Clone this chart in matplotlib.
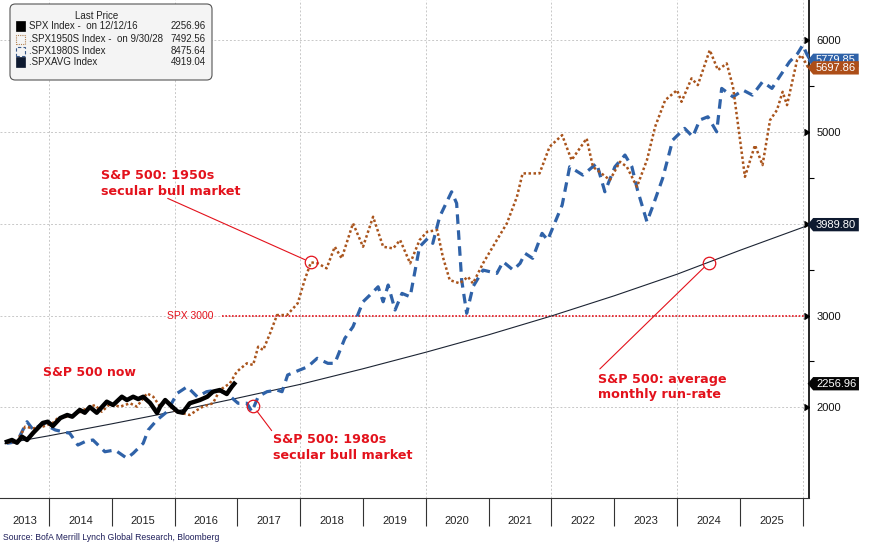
import matplotlib
matplotlib.use('Agg')
import matplotlib.pyplot as plt
from matplotlib.path import Path
from matplotlib.patches import Rectangle, FancyBboxPatch

# Datos (fecha en anos fraccionales)
spx_t = [2013.33, 2013.41, 2013.49, 2013.57, 2013.65, 2013.75, 2013.90, 2013.98, 2014.06, 2014.18,
         2014.29, 2014.37, 2014.49, 2014.57, 2014.65, 2014.76, 2014.92, 2015.02, 2015.16, 2015.24,
         2015.34, 2015.42, 2015.50, 2015.61, 2015.72, 2015.77, 2015.85, 2015.96, 2016.05, 2016.13,
         2016.24, 2016.40, 2016.52, 2016.61, 2016.72, 2016.83, 2016.91, 2016.95]
spx_v = [1625, 1644, 1614, 1680, 1644, 1723, 1829, 1843, 1796, 1883,
         1916, 1898, 1971, 1941, 2003, 1941, 2061, 2025, 2115, 2079,
         2115, 2090, 2115, 2047, 1938, 2007, 2079, 2007, 1952, 1941,
         2044, 2079, 2115, 2170, 2188, 2145, 2224, 2257]

s50_t = [2013.33, 2013.49, 2013.62, 2013.75, 2013.90, 2014.06, 2014.14, 2014.29, 2014.46, 2014.57,
         2014.73, 2014.84, 2014.97, 2015.13, 2015.29, 2015.40, 2015.56, 2015.66, 2015.77, 2015.88,
         2015.97, 2016.13, 2016.24, 2016.36, 2016.45, 2016.61, 2016.72, 2016.88, 2016.99, 2017.15,
         2017.25, 2017.33, 2017.41, 2017.52, 2017.63, 2017.79, 2017.96, 2018.07, 2018.17, 2018.28,
         2018.42, 2018.55, 2018.66, 2018.84, 2019.00, 2019.16, 2019.32, 2019.48, 2019.59, 2019.75,
         2019.90, 2020.02, 2020.18, 2020.27, 2020.38, 2020.54, 2020.67, 2020.75, 2020.91, 2021.13,
         2021.29, 2021.45, 2021.54, 2021.81, 2021.97, 2022.17, 2022.32, 2022.56, 2022.66, 2022.93,
         2023.09, 2023.20, 2023.36, 2023.52, 2023.65, 2023.81, 2024.00, 2024.07, 2024.23, 2024.33,
         2024.52, 2024.65, 2024.79, 2024.89, 2025.08, 2025.24, 2025.36, 2025.48, 2025.59, 2025.68,
         2025.75, 2025.91, 2025.98, 2026.08, 2026.12]
s50_v = [1614, 1625, 1789, 1771, 1789, 1829, 1883, 1898, 1935, 1978,
         2025, 1952, 2036, 2007, 2044, 2007, 2152, 2115, 2007, 2079,
         1971, 1935, 1916, 1971, 2007, 2044, 2188, 2261, 2388, 2479,
         2461, 2660, 2624, 2806, 3005, 3005, 3133, 3386, 3579, 3568,
         3514, 3749, 3623, 4004, 3749, 4076, 3749, 3731, 3822, 3568,
         3822, 3912, 3931, 3640, 3386, 3350, 3422, 3350, 3568, 3822,
         4004, 4293, 4548, 4548, 4838, 4965, 4693, 4929, 4620, 4476,
         4675, 4620, 4402, 4693, 5056, 5346, 5455, 5328, 5583, 5510,
         5891, 5674, 5746, 5491, 4511, 4856, 4639, 5129, 5238, 5437,
         5292, 5782, 5837, 5709, 5698]

s80_t = [2013.33, 2013.49, 2013.65, 2013.75, 2013.90, 2014.10, 2014.33, 2014.46, 2014.57, 2014.70,
         2014.89, 2015.05, 2015.24, 2015.34, 2015.50, 2015.58, 2015.72, 2015.88, 2016.04, 2016.20,
         2016.36, 2016.51, 2016.67, 2016.83, 2017.01, 2017.15, 2017.23, 2017.33, 2017.47, 2017.63,
         2017.71, 2017.80, 2017.99, 2018.12, 2018.27, 2018.44, 2018.55, 2018.71, 2018.84, 2019.00,
         2019.11, 2019.24, 2019.32, 2019.40, 2019.51, 2019.62, 2019.75, 2019.90, 2020.03, 2020.11,
         2020.22, 2020.41, 2020.49, 2020.57, 2020.65, 2020.75, 2020.91, 2021.13, 2021.23, 2021.39,
         2021.50, 2021.58, 2021.70, 2021.85, 2021.94, 2022.17, 2022.29, 2022.50, 2022.72, 2022.85,
         2023.01, 2023.17, 2023.28, 2023.37, 2023.52, 2023.61, 2023.77, 2023.93, 2024.12, 2024.25,
         2024.36, 2024.49, 2024.63, 2024.71, 2024.89, 2025.05, 2025.20, 2025.36, 2025.51, 2025.63,
         2025.79, 2025.92, 2026.00, 2026.06, 2026.12]
s80_v = [1608, 1625, 1843, 1753, 1826, 1753, 1717, 1589, 1625, 1644,
         1516, 1535, 1445, 1499, 1608, 1753, 1862, 1952, 2152, 2224,
         2115, 2170, 2188, 2152, 2044, 2044, 1952, 2115, 2170, 2188,
         2170, 2352, 2406, 2442, 2534, 2479, 2479, 2751, 2878, 3150,
         3223, 3313, 3150, 3332, 3060, 3241, 3204, 3749, 3840, 3786,
         4076, 4348, 4222, 3386, 3024, 3313, 3495, 3459, 3586, 3495,
         3568, 3677, 3623, 3895, 3822, 4203, 4620, 4530, 4657, 4348,
         4620, 4748, 4620, 4366, 4021, 4185, 4494, 4911, 5038, 4947,
         5129, 5165, 5001, 5474, 5382, 5455, 5401, 5546, 5474, 5600,
         5764, 5855, 5946, 5855, 5780]

avg_t = [2013.30, 2014.0, 2015.0, 2016.0, 2017.0, 2018.0, 2019.0, 2020.0,
         2021.0, 2022.0, 2023.0, 2024.0, 2025.0, 2026.12]
avg_v = [1605, 1690, 1820, 1955, 2100, 2250, 2420, 2600,
         2790, 2995, 3215, 3450, 3710, 3990]

spx_level = 3000
years = list(range(2014, 2027))
year_labels = [str(y) for y in range(2013, 2026)]
ytick_vals = [2000, 3000, 4000, 5000, 6000]
ytick_text = ['2000', '3000', '', '5000', '6000']  # 4000 queda tapado por la etiqueta 3989.80
ytick_minor = [2500, 3500, 4500, 5500]

# etiquetas del ultimo precio: valor, texto, color
tags = [(5780, '5779.85', '#2f62a8'), (5697.86, '5697.86', '#ad4e18'),
        (3989.80, '3989.80', '#0e1a30'), (2256.96, '2256.96', '#050505')]

legend_rows = [('SPX Index -  on 12/12/16', '2256.96'),
               ('.SPX1950S Index -  on 9/30/28', '7492.56'),
               ('.SPX1980S Index', '8475.64'),
               ('.SPXAVG Index', '4919.04')]

RED = '#e3121c'
ORANGE = '#a9541c'
BLUE = '#2f62a8'

W, H = 875, 545
fig = plt.figure(figsize=(W / 100, H / 100), dpi=100)
ax = fig.add_axes([0, 1 - 498 / H, 809 / W, 498 / H])
ax.set_xlim(2013.22, 2026.10)
ax.set_ylim(1012, 6437)

# rejilla punteada
ax.grid(axis='y', which='major', color='#c8c8c8', ls=(0, (2, 2)), lw=0.7)
for yr in range(2014, 2027, 2):
    ax.axvline(yr, color='#c8c8c8', ls=(0, (2, 2)), lw=0.7, zorder=0.5)

# series
ax.plot(avg_t, avg_v, color='#1c2433', lw=0.8, zorder=3)
ax.plot(s80_t, s80_v, color=BLUE, lw=2.3, ls=(0, (3, 2)), zorder=4)
ax.plot(s50_t, s50_v, color=ORANGE, lw=1.8, ls=(0, (1, 1)), zorder=5)
ax.plot(spx_t, spx_v, color='black', lw=3.2, zorder=6)

# linea SPX 3000
ax.axhline(spx_level, xmin=0.274, xmax=1, color=RED, ls=(0, (1, 1)), lw=1.2, zorder=2)
ax.text(2016.62, spx_level, 'SPX 3000', color=RED, fontsize=7.5, family='Liberation Sans',
        ha='right', va='center')

# anotaciones
def callout(circ, start, text, tpos):
    ax.plot(circ[0], circ[1], 'o', mfc='none', mec=RED, ms=9, mew=0.9, zorder=8)
    ax.annotate('', xy=circ, xytext=start,
                arrowprops=dict(arrowstyle='-', color=RED, lw=0.8, shrinkA=0, shrinkB=4.5))
    ax.text(tpos[0], tpos[1], text, color=RED, fontsize=9.2, fontweight='bold',
            ha='left', va='center', linespacing=1.25, zorder=8)

callout((2018.17, 3579), (2015.89, 4276), 'S&P 500: 1950s\nsecular bull market', (2014.83, 4437))
callout((2017.25, 2014), (2017.545, 1746), 'S&P 500: 1980s\nsecular bull market', (2017.565, 1562))
callout((2024.50, 3571), (2022.77, 2418), 'S&P 500: average\nmonthly run-rate', (2022.74, 2221))
ax.text(2013.905, 2374, 'S&P 500 now', color=RED, fontsize=9, fontweight='bold',
        ha='left', va='center', zorder=8)

# ejes
for s in ['left', 'top']:
    ax.spines[s].set_visible(False)
ax.spines['right'].set_color('black')
ax.spines['right'].set_linewidth(1.2)
ax.spines['bottom'].set_color('#333333')
ax.spines['bottom'].set_linewidth(0.8)

ax.set_xticks(years)
ax.set_xticklabels([''] * len(years))
ax.set_xticks([2013.62] + [y + 0.5 for y in range(2014, 2026)], minor=True)
ax.set_xticklabels(year_labels, minor=True, fontsize=8, family='Liberation Sans', color='#222222')
ax.tick_params(axis='x', which='major', length=20, width=0.8, color='#333333', direction='out')
ax.tick_params(axis='x', which='minor', length=0, pad=13)

ax.yaxis.tick_right()
ax.set_yticks(ytick_vals)
ax.set_yticklabels(ytick_text, fontsize=8, family='Liberation Sans', color='#111111')
ax.set_yticks(ytick_minor, minor=True)
ax.tick_params(axis='y', which='major', length=0, pad=5.5)
ax.tick_params(axis='y', which='minor', length=3.5, width=0.8, direction='out', color='black')
ax.plot([1.0] * len(ytick_vals), ytick_vals, transform=ax.get_yaxis_transform(),
        marker=5, ms=5, color='black', ls='none', clip_on=False, zorder=6)


# etiqueta con punta a la izquierda
def tag_box(x0, y0, width, height, mutation_size):
    px, py = 0.25 * mutation_size, 0.15 * mutation_size
    x0, y0 = x0 - px, y0 - py
    x1, y1 = x0 + width + 2 * px, y0 + height + 2 * py
    tip = 0.42 * (y1 - y0)
    return Path([(x0, y0), (x1, y0), (x1, y1), (x0, y1), (x0 - tip, (y0 + y1) / 2), (x0, y0)],
                closed=True)


for i, (val, txt, col) in enumerate(tags):
    ax.annotate(txt, xy=(1.0, val), xycoords=('axes fraction', 'data'), xytext=(5, 0),
                textcoords='offset points', ha='left', va='center', fontsize=8,
                family='Liberation Sans', color='white', annotation_clip=False,
                bbox=dict(boxstyle=tag_box, fc=col, ec='none'), zorder=10 + i)


# leyenda manual
def fx(x):
    return x / W


def fy(y):
    return 1 - y / H


fig.add_artist(FancyBboxPatch((fx(10), fy(80)), fx(202), 76 / H,
                              boxstyle='round,pad=0,rounding_size=0.006', mutation_aspect=W / H,
                              transform=fig.transFigure, fc='#f4f4f4', ec='#555555', lw=0.8,
                              zorder=20))
fig.text(fx(97), fy(16), 'Last Price', ha='center', va='center', fontsize=7,
         family='Liberation Sans', color='#222222', zorder=21)
row_y = [26, 39, 51, 62]
sw_style = [dict(fc='black', ec='black', lw=0.5),
            dict(fc='none', ec='#b08050', lw=0.8, ls=(0, (1, 1))),
            dict(fc='none', ec='#3a5a8a', lw=0.8, ls=(0, (3, 2))),
            dict(fc='#0e1a30', ec='#0e1a30', lw=0.5)]
for (name, val), yy, st in zip(legend_rows, row_y, sw_style):
    fig.add_artist(Rectangle((fx(16), fy(yy + 4.5)), fx(9), 9 / H, transform=fig.transFigure,
                             zorder=21, **st))
    fig.text(fx(29), fy(yy), name, ha='left', va='center', fontsize=7,
             family='Liberation Sans', color='#222222', zorder=21)
    fig.text(fx(206), fy(yy), val, ha='right', va='center', fontsize=7,
             family='Liberation Sans', color='#222222', zorder=21)

fig.text(fx(3), fy(537), 'Source: BofA Merrill Lynch Global Research, Bloomberg', ha='left',
         va='center', fontsize=6.2, family='Liberation Sans', color='#1e1e5a')

fig.savefig('out.png', dpi=100)
